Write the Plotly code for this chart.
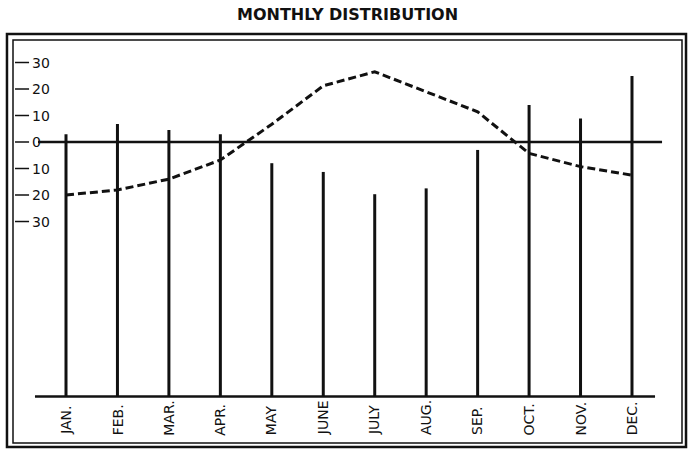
import plotly.graph_objects as go

# Monthly data
months = ["JAN.", "FEB.", "MAR.", "APR.", "MAY", "JUNE", "JULY", "AUG.", "SEP.", "OCT.", "NOV.", "DEC."]
bar_values = [2.9, 6.8, 4.5, 2.9, -8.0, -11.3, -19.7, -17.5, -3.0, 14.0, 8.9, 24.9]
curve_values = [-20.0, -18.1, -14.0, -6.8, 6.7, 21.2, 26.5, 19.0, 11.4, -4.3, -9.3, -12.5]
tick_values = [30, 20, 10, 0, -10, -20, -30]
tick_labels = ["30", "20", "10", "0", "10", "20", "30"]
bar_floor = -96  # level the vertical bars rise from

ink = "#111111"
x = list(range(len(months)))

fig = go.Figure()

# vertical bars: one segment per month from the floor to its value
bx, by = [], []
for i, v in zip(x, bar_values):
    bx += [i, i, None]
    by += [bar_floor, v, None]
fig.add_trace(go.Scatter(x=bx, y=by, mode="lines",
                         line=dict(color=ink, width=3), hoverinfo="skip"))

# dashed curve
fig.add_trace(go.Scatter(x=x, y=curve_values, mode="lines",
                         line=dict(color=ink, width=3, dash="8px,4px"),
                         hoverinfo="skip"))

shapes = [
    # zero line
    dict(type="line", xref="x", yref="y", x0=-0.544, x1=11.584, y0=0, y1=0,
         line=dict(color=ink, width=2.5)),
    # floor line
    dict(type="line", xref="x", yref="y", x0=-0.603, x1=11.448,
         y0=bar_floor, y1=bar_floor, line=dict(color=ink, width=2.5)),
    # inner frame
    dict(type="rect", xref="paper", yref="paper", x0=0, x1=1, y0=0, y1=1,
         line=dict(color=ink, width=1.5)),
    # outer frame
    dict(type="rect", xref="paper", yref="paper", x0=-0.009, x1=1.006,
         y0=-0.01, y1=1.015, line=dict(color=ink, width=2.5)),
]

annotations = []
# left scale: short dashes with labels
for v, t in zip(tick_values, tick_labels):
    shapes.append(dict(type="line", xref="paper", yref="y", x0=0.003, x1=0.024,
                       y0=v, y1=v, line=dict(color=ink, width=1.5)))
    annotations.append(dict(x=0.0254, y=v, xref="paper", yref="y", text=t,
                            showarrow=False, xanchor="left", yanchor="middle",
                            font=dict(family="DejaVu Sans", size=14, color=ink)))

# month names, rotated
for i, m in zip(x, months):
    annotations.append(dict(x=i, y=0.014, xref="x", yref="paper", text=m,
                            textangle=-90, showarrow=False,
                            xanchor="center", yanchor="bottom",
                            font=dict(family="DejaVu Sans", size=14, color=ink)))

# heading
annotations.append(dict(x=0.5, y=1.0645, xref="paper", yref="paper",
                        text="<b>MONTHLY DISTRIBUTION</b>", showarrow=False,
                        xanchor="center", yanchor="middle",
                        font=dict(family="DejaVu Sans", size=16, color=ink)))

fig.update_layout(
    width=688, height=450,
    margin=dict(l=13, r=6, t=40, b=7),
    paper_bgcolor="white", plot_bgcolor="white",
    showlegend=False,
    xaxis=dict(range=[-1.030, 11.972], visible=False, fixedrange=True),
    yaxis=dict(range=[-113.58, 38.49], visible=False, fixedrange=True),
    shapes=shapes,
    annotations=annotations,
)

fig.write_html("out.html")
